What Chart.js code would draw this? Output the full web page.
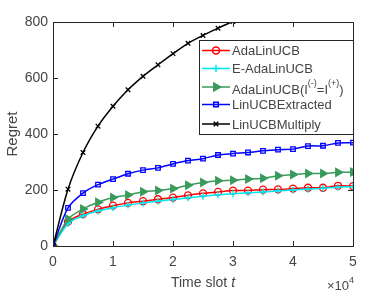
<!DOCTYPE html>
<html>
<head>
<meta charset="utf-8">
<script src="https://cdn.jsdelivr.net/npm/chart.js@4/dist/chart.umd.min.js"></script>
<style>
  body { margin: 0; background: #fff; }
  #wrap { width: 390px; height: 297px; }
</style>
</head>
<body>
<div id="wrap"><canvas id="regretChart"></canvas></div>
<script>
// time slots (markers every 2500)
const timeSlots = [0, 2500, 5000, 7500, 10000, 12500, 15000, 17500, 20000, 22500, 25000,
  27500, 30000, 32500, 35000, 37500, 40000, 42500, 45000, 47500, 50000];

const adaLinUCB     = [0, 87, 114, 131, 144, 154, 160, 167, 173, 181, 188, 193, 198, 198, 201, 202, 205, 208, 208, 215, 214];
const eAdaLinUCB    = [0, 80, 108, 125, 137, 146, 154, 160, 166, 172, 178, 183, 187, 190, 193, 197, 200, 203, 206, 210, 212];
const adaLinUCBEq   = [0, 96, 132, 156, 173, 182, 194, 198, 205, 217, 227, 233, 235, 239, 242, 251, 255, 259, 259, 263, 264];
const linUCBExtr    = [0, 136, 189, 219, 239, 258, 271, 279, 293, 305, 312, 325, 330, 334, 340, 344, 346, 357, 358, 368, 369];
const linUCBMult    = [0, 203, 334, 428, 499, 558, 606, 647, 687, 724, 752, 778, 802, 826, 849, 871, 892, 912, 931, 950, 968];

const xTicks = [0, 10000, 20000, 30000, 40000, 50000];
const yTicks = [0, 200, 400, 600, 800];

const axisColor = '#262626';
const textColor = '#454545';
const fontFam = '"Liberation Sans", Arial, sans-serif';

function pts(ys) {
  return timeSlots.map((t, i) => ({ x: t, y: ys[i] }));
}

const series = [
  { label: 'AdaLinUCB', data: adaLinUCB, color: '#ff0000', style: 'circle', fill: 'rgba(0,0,0,0)', r: 3.5, order: 5 },
  { label: 'E-AdaLinUCB', data: eAdaLinUCB, color: '#00e5ee', style: 'cross', fill: 'rgba(0,0,0,0)', r: 3.5, order: 4 },
  { label: 'AdaLinUCBEq', data: adaLinUCBEq, color: '#3a9a5c', style: 'triangle', fill: '#3a9a5c', r: 4.5, rot: 90, order: 3 },
  { label: 'LinUCBExtracted', data: linUCBExtr, color: '#0000ff', style: 'rect', fill: 'rgba(0,0,0,0)', r: 3.2, order: 2 },
  { label: 'LinUCBMultiply', data: linUCBMult, color: '#000000', style: 'crossRot', fill: 'rgba(0,0,0,0)', r: 3.2, order: 1 }
];

// box, inward ticks, legend and labels
const matlabAxes = {
  id: 'matlabAxes',
  afterDatasetsDraw(chart) {
    const ctx = chart.ctx;
    const a = chart.chartArea;
    const xs = chart.scales.x, ys = chart.scales.y;
    ctx.save();
    ctx.strokeStyle = axisColor;
    ctx.lineWidth = 1;
    ctx.strokeRect(Math.round(a.left) + 0.5, Math.round(a.top) + 0.5, Math.round(a.right - a.left), Math.round(a.bottom - a.top));
    ctx.beginPath();
    xTicks.forEach(v => {
      const px = Math.round(xs.getPixelForValue(v)) + 0.5;
      ctx.moveTo(px, a.bottom); ctx.lineTo(px, a.bottom - 5);
      ctx.moveTo(px, a.top); ctx.lineTo(px, a.top + 5);
    });
    yTicks.forEach(v => {
      const py = Math.round(ys.getPixelForValue(v)) + 0.5;
      ctx.moveTo(a.left, py); ctx.lineTo(a.left + 5, py);
      ctx.moveTo(a.right, py); ctx.lineTo(a.right - 5, py);
    });
    ctx.stroke();

    // legend
    const lx = 199.5, ly = 40.5, lw = a.right - 199.5 + 0.5, lh = 94;
    ctx.fillStyle = '#fff';
    ctx.fillRect(lx, ly, lw, lh);
    ctx.strokeRect(lx, ly, lw, lh);
    const rowsY = [50.5, 68.5, 87, 104.5, 124];
    series.forEach((s, i) => {
      const y = rowsY[i];
      ctx.strokeStyle = s.color;
      ctx.lineWidth = 1.5;
      ctx.beginPath();
      ctx.moveTo(202, y); ctx.lineTo(230, y);
      ctx.stroke();
      ctx.fillStyle = s.fill;
      Chart.helpers.drawPoint(ctx, {
        pointStyle: s.style, radius: s.r, rotation: s.rot || 0, borderWidth: 1.3
      }, 216, y);
      ctx.fillStyle = textColor;
      ctx.textBaseline = 'middle';
      ctx.textAlign = 'left';
      if (i === 2) {
        const ty = y + 3;
        let x = 232;
        const parts = [['AdaLinUCB(I', 13, 0], ['(-)', 9, -6], ['=I', 13, 0], ['(+)', 9, -6], [')', 13, 0]];
        parts.forEach(p => {
          ctx.font = p[1] + 'px ' + fontFam;
          ctx.fillText(p[0], x, ty + p[2]);
          x += ctx.measureText(p[0]).width;
        });
      } else {
        ctx.font = '13px ' + fontFam;
        ctx.fillText(s.label, 232, y + 1);
      }
    });

    // axis label with italic t, and exponent
    ctx.fillStyle = textColor;
    ctx.textBaseline = 'alphabetic';
    ctx.textAlign = 'left';
    const t1 = 'Time slot ';
    ctx.font = 'italic 14px ' + fontFam;
    const wT = ctx.measureText('t').width;
    ctx.font = '14px ' + fontFam;
    const w1 = ctx.measureText(t1).width;
    const cx = (a.left + a.right) / 2;
    const x0 = cx - (w1 + wT) / 2;
    ctx.fillText(t1, x0, 287);
    ctx.font = 'italic 14px ' + fontFam;
    ctx.fillText('t', x0 + w1, 287);

    ctx.font = '13px ' + fontFam;
    const wx = ctx.measureText('\u00d710').width;
    ctx.font = '9px ' + fontFam;
    const w4 = ctx.measureText('4').width;
    const ex = 354 - wx - w4;
    ctx.font = '13px ' + fontFam;
    ctx.fillText('\u00d710', ex, 290);
    ctx.font = '9px ' + fontFam;
    ctx.fillText('4', ex + wx, 283);
    ctx.restore();
  }
};

new Chart(document.getElementById('regretChart'), {
  type: 'line',
  data: {
    datasets: series.map(s => ({
      label: s.label,
      data: pts(s.data),
      borderColor: s.color,
      backgroundColor: s.fill,
      borderWidth: 1.5,
      pointStyle: s.style,
      pointRadius: s.r,
      pointRotation: s.rot || 0,
      pointBorderColor: s.color,
      pointBackgroundColor: s.fill,
      pointBorderWidth: 1.3,
      tension: 0.3,
      fill: false,
      order: s.order
    }))
  },
  options: {
    responsive: true,
    maintainAspectRatio: false,
    animation: false,
    layout: { padding: { left: 0, right: 37, top: 22, bottom: 0 } },
    plugins: { legend: { display: false }, tooltip: { enabled: false } },
    scales: {
      x: {
        type: 'linear', min: 0, max: 50000,
        afterFit: s => { s.height = 51; },
        afterBuildTicks: s => { s.ticks = xTicks.map(v => ({ value: v })); },
        grid: { display: false, drawTicks: false },
        border: { display: false },
        ticks: {
          color: textColor, padding: 8, maxRotation: 0,
          font: { family: fontFam, size: 14 },
          callback: v => String(v / 10000)
        }
      },
      y: {
        min: 0, max: 800,
        afterFit: s => { s.width = 53; },
        afterBuildTicks: s => { s.ticks = yTicks.map(v => ({ value: v })); },
        grid: { display: false, drawTicks: false },
        border: { display: false },
        ticks: { color: textColor, padding: 5, font: { family: fontFam, size: 14 } },
        title: { display: true, text: 'Regret', color: textColor, padding: { top: 4, bottom: 0 }, font: { family: fontFam, size: 15 } }
      }
    }
  },
  plugins: [matlabAxes]
});
</script>
</body>
</html>
